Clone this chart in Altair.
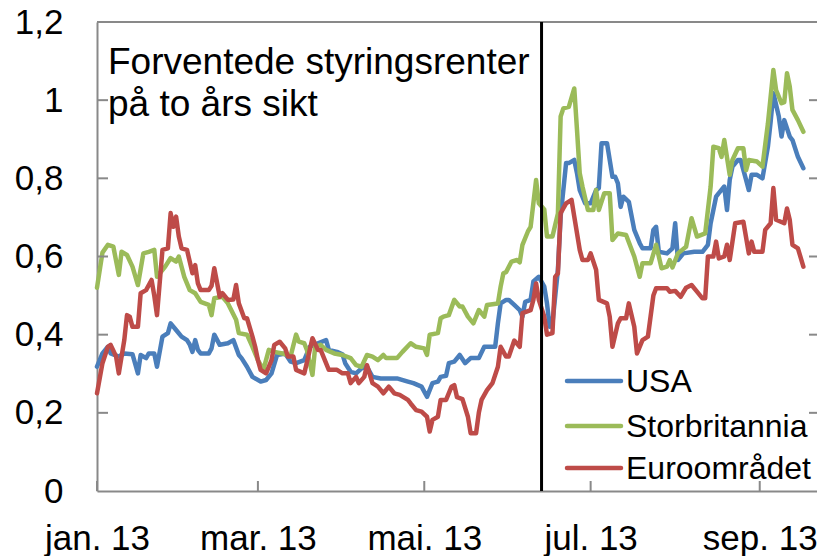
import altair as alt
import pandas as pd

# ---------------- data ----------------
start_date = "2013-01-01"
series_names = ["USA", "Storbritannia", "Euroområdet"]
series_colors = ["#4A7EBB", "#9BBB59", "#BE4B48"]

# (days since 1 Jan 2013, expected policy rate two years ahead, %)
usa_points = [
    (0, 0.318), (2, 0.352), (4, 0.369), (5, 0.352), (8, 0.344), (10, 0.352), (13, 0.35),
    (15, 0.301), (16, 0.348), (18, 0.34), (19, 0.352), (21, 0.352), (22, 0.318), (24, 0.395),
    (26, 0.404), (27, 0.429), (29, 0.412), (31, 0.395), (33, 0.386), (34, 0.375), (35, 0.356),
    (36, 0.386), (37, 0.361), (38, 0.352), (41, 0.352), (42, 0.365), (43, 0.4), (45, 0.374),
    (48, 0.378), (50, 0.386), (52, 0.348), (53, 0.34), (55, 0.318), (57, 0.292), (60, 0.28),
    (62, 0.284), (64, 0.301), (66, 0.348), (69, 0.352), (71, 0.331), (73, 0.327), (76, 0.335),
    (78, 0.369), (81, 0.378), (84, 0.386), (85, 0.361), (88, 0.356), (90, 0.35), (91, 0.327),
    (93, 0.305), (95, 0.301), (97, 0.314), (99, 0.318), (101, 0.292), (104, 0.288), (110, 0.288),
    (114, 0.28), (116, 0.276), (119, 0.267), (121, 0.241), (123, 0.276), (125, 0.28), (126, 0.292),
    (128, 0.295), (129, 0.327), (131, 0.331), (133, 0.348), (135, 0.327), (137, 0.34), (140, 0.34),
    (142, 0.369), (146, 0.369), (147, 0.429), (148, 0.48), (150, 0.489), (151, 0.489), (153, 0.476),
    (155, 0.463), (156, 0.446), (157, 0.484), (159, 0.489), (160, 0.536), (162, 0.548), (164, 0.523),
    (165, 0.48), (166, 0.42), (167, 0.429), (169, 0.566), (170, 0.702), (172, 0.839), (173, 0.839),
    (175, 0.847), (176, 0.813), (177, 0.77), (179, 0.736), (181, 0.736), (183, 0.77), (184, 0.775),
    (185, 0.89), (187, 0.89), (189, 0.804), (190, 0.804), (191, 0.787), (192, 0.727), (193, 0.753),
    (195, 0.74), (197, 0.668), (199, 0.634), (200, 0.621), (203, 0.621), (204, 0.668), (205, 0.676),
    (206, 0.612), (209, 0.608), (211, 0.621), (212, 0.685), (213, 0.591), (215, 0.608), (219, 0.612),
    (222, 0.612), (224, 0.63), (225, 0.685), (227, 0.753), (228, 0.762), (230, 0.779), (231, 0.719),
    (232, 0.796), (233, 0.83), (235, 0.847), (236, 0.847), (238, 0.796), (239, 0.77), (240, 0.809),
    (242, 0.809), (244, 0.8), (246, 0.881), (247, 0.945), (248, 1.018), (250, 0.958), (251, 0.907),
    (252, 0.949), (254, 0.907), (255, 0.898), (257, 0.855), (259, 0.826),
]

uk_points = [
    (0, 0.52), (2, 0.61), (4, 0.63), (6, 0.625), (8, 0.553), (9, 0.612), (11, 0.604), (13, 0.574),
    (15, 0.527), (17, 0.608), (19, 0.612), (21, 0.617), (22, 0.548), (25, 0.574), (27, 0.596),
    (29, 0.587), (30, 0.6), (32, 0.548), (34, 0.514), (36, 0.506), (38, 0.484), (41, 0.476),
    (42, 0.45), (43, 0.493), (46, 0.497), (48, 0.48), (51, 0.438), (52, 0.404), (55, 0.4),
    (57, 0.369), (59, 0.335), (61, 0.31), (63, 0.361), (65, 0.356), (68, 0.352), (71, 0.345),
    (73, 0.4), (74, 0.382), (76, 0.378), (77, 0.36), (79, 0.297), (80, 0.369), (82, 0.374),
    (84, 0.361), (87, 0.352), (90, 0.348), (93, 0.34), (95, 0.322), (97, 0.318), (99, 0.348),
    (101, 0.344), (103, 0.335), (105, 0.348), (106, 0.34), (110, 0.34), (112, 0.356), (115, 0.378),
    (117, 0.369), (120, 0.365), (121, 0.348), (122, 0.4), (125, 0.404), (126, 0.442), (127, 0.446),
    (129, 0.45), (131, 0.489), (133, 0.472), (134, 0.472), (136, 0.446), (138, 0.429), (140, 0.463),
    (142, 0.446), (143, 0.476), (147, 0.48), (148, 0.523), (149, 0.557), (150, 0.56), (152, 0.587),
    (154, 0.591), (155, 0.585), (156, 0.63), (158, 0.664), (159, 0.676), (161, 0.796), (162, 0.736),
    (164, 0.72), (165, 0.651), (167, 0.651), (169, 0.71), (170, 0.958), (171, 0.979), (173, 0.983),
    (175, 1.03), (176, 0.924), (177, 0.813), (178, 0.779), (180, 0.719), (182, 0.719), (183, 0.77),
    (184, 0.719), (186, 0.762), (188, 0.762), (189, 0.642), (191, 0.659), (194, 0.655), (197, 0.6),
    (199, 0.548), (200, 0.583), (203, 0.583), (205, 0.63), (207, 0.57), (209, 0.574), (210, 0.591),
    (211, 0.572), (213, 0.608), (216, 0.625), (218, 0.698), (220, 0.651), (223, 0.659), (225, 0.779),
    (226, 0.881), (228, 0.877), (229, 0.855), (230, 0.898), (232, 0.809), (233, 0.847), (235, 0.877),
    (237, 0.877), (238, 0.821), (239, 0.847), (242, 0.843), (244, 0.83), (246, 0.94), (248, 1.077),
    (249, 1.026), (251, 0.992), (252, 0.995), (253, 1.069), (254, 1.035), (255, 0.975), (257, 0.949),
    (259, 0.919),
]

euro_points = [
    (0, 0.25), (2, 0.327), (4, 0.369), (5, 0.374), (7, 0.344), (8, 0.301), (10, 0.386), (11, 0.45),
    (12, 0.446), (13, 0.42), (15, 0.42), (16, 0.506), (18, 0.514), (20, 0.54), (21, 0.5), (22, 0.45),
    (24, 0.617), (26, 0.621), (27, 0.711), (28, 0.676), (29, 0.702), (30, 0.651), (31, 0.621),
    (33, 0.617), (35, 0.557), (36, 0.578), (37, 0.531), (38, 0.514), (41, 0.514), (42, 0.525),
    (43, 0.57), (45, 0.497), (46, 0.506), (48, 0.489), (50, 0.49), (51, 0.527), (52, 0.48),
    (54, 0.442), (55, 0.442), (57, 0.395), (58, 0.369), (59, 0.335), (60, 0.31), (62, 0.301),
    (64, 0.335), (65, 0.374), (67, 0.382), (69, 0.365), (70, 0.344), (72, 0.344), (73, 0.31),
    (76, 0.301), (77, 0.33), (79, 0.391), (81, 0.361), (82, 0.361), (85, 0.31), (88, 0.31),
    (90, 0.301), (92, 0.301), (93, 0.276), (95, 0.292), (96, 0.276), (98, 0.292), (99, 0.322),
    (101, 0.276), (103, 0.267), (105, 0.25), (107, 0.267), (109, 0.25), (111, 0.246), (114, 0.233),
    (115, 0.224), (117, 0.207), (119, 0.203), (121, 0.19), (122, 0.152), (123, 0.182), (125, 0.19),
    (126, 0.233), (128, 0.233), (130, 0.267), (131, 0.271), (132, 0.24), (134, 0.235), (136, 0.19),
    (137, 0.148), (139, 0.148), (140, 0.2), (141, 0.233), (143, 0.258), (145, 0.276), (147, 0.318),
    (148, 0.369), (150, 0.344), (151, 0.344), (153, 0.385), (155, 0.369), (156, 0.455), (159, 0.463),
    (160, 0.489), (161, 0.531), (162, 0.489), (164, 0.446), (165, 0.4), (167, 0.404), (168, 0.548),
    (169, 0.557), (170, 0.711), (172, 0.736), (174, 0.745), (175, 0.702), (177, 0.617), (178, 0.591),
    (180, 0.591), (181, 0.608), (183, 0.566), (184, 0.489), (187, 0.48), (188, 0.446), (189, 0.369),
    (191, 0.429), (192, 0.442), (194, 0.442), (195, 0.48), (197, 0.42), (198, 0.352), (200, 0.386),
    (202, 0.395), (204, 0.5), (205, 0.519), (209, 0.519), (210, 0.51), (212, 0.512), (214, 0.497),
    (216, 0.52), (218, 0.527), (220, 0.51), (222, 0.493), (223, 0.493), (224, 0.6), (226, 0.6),
    (227, 0.638), (228, 0.595), (230, 0.6), (231, 0.63), (232, 0.591), (234, 0.685), (237, 0.689),
    (239, 0.608), (240, 0.638), (241, 0.612), (244, 0.612), (245, 0.668), (247, 0.685), (248, 0.775),
    (249, 0.694), (252, 0.685), (253, 0.723), (254, 0.694), (255, 0.63), (257, 0.621), (259, 0.574),
]

event_date = "2013-06-13"
y_ticks = [0, 0.2, 0.4, 0.6, 0.8, 1.0, 1.2]
y_tick_labels = ["0", "0,2", "0,4", "0,6", "0,8", "1", "1,2"]
x_tick_dates = ["2013-01-01", "2013-03-01", "2013-05-01", "2013-07-01", "2013-09-01"]
x_tick_labels = ["jan. 13", "mar. 13", "mai. 13", "jul. 13", "sep. 13"]
x_domain_days = 264
title_text = "Forventede styringsrenter\npå to års sikt"

# ---------------- layout / style ----------------
W, H = 720, 469
FONT = "Liberation Sans"
GRAY = "#898989"
LINE_W = 4.5

start = pd.Timestamp(start_date)
rows = []
for name, pts in zip(series_names, [usa_points, uk_points, euro_points]):
    for d, v in pts:
        rows.append({"date": start + pd.Timedelta(days=d), "value": v, "series": name})
df = pd.DataFrame(rows)


def dt(ts):
    return alt.DateTime(year=ts.year, month=ts.month, date=ts.day)


end = start + pd.Timedelta(days=x_domain_days)
x_scale = alt.Scale(domain=[dt(start), dt(end)])
y_scale = alt.Scale(domain=[min(y_ticks), max(y_ticks)], nice=False, zero=False)
color_scale = alt.Scale(domain=series_names, range=series_colors)

tick_ts = [pd.Timestamp(s) for s in x_tick_dates]
label_expr_x = " : ".join(
    f"month(datum.value) == {t.month - 1} ? '{lab}'" for t, lab in zip(tick_ts, x_tick_labels)
) + " : ''"
label_expr_y = " : ".join(
    f"abs(datum.value - {v}) < 0.001 ? '{lab}'" for v, lab in zip(y_ticks, y_tick_labels)
) + " : ''"

x_axis = alt.Axis(
    values=[dt(t) for t in tick_ts], labelExpr=label_expr_x, ticks=False, grid=False,
    domainColor=GRAY, domainWidth=2, labelFontSize=35, labelPadding=30, labelColor="black",
    labelFont=FONT, labelFlush=False, labelOverlap=False, title=None, labels=True,
)
y_axis = alt.Axis(
    values=y_ticks, labelExpr=label_expr_y, ticks=False, grid=False, domainColor=GRAY,
    domainWidth=2, labelFontSize=35, labelPadding=34, labelColor="black", labelFont=FONT,
    labelOverlap=False, title=None, labels=True,
)

X = lambda f: alt.X(f, scale=x_scale, axis=x_axis)
Y = lambda f: alt.Y(f, scale=y_scale, axis=y_axis)

# series lines (drawn in Excel order: USA, Storbritannia, Euroområdet)
line_layers = []
for name in series_names:
    line_layers.append(
        alt.Chart(df[df["series"] == name]).mark_line(
            strokeWidth=LINE_W, strokeJoin="round", strokeCap="round"
        ).encode(
            x=X("date:T"),
            y=Y("value:Q"),
            color=alt.Color("series:N", scale=color_scale, legend=None),
        )
    )

inner_ticks = pd.DataFrame({"v": y_ticks[1:-1]})
left_ticks = alt.Chart(inner_ticks).mark_rule(color=GRAY, strokeWidth=2).encode(
    y=Y("v:Q"), x=alt.value(0), x2=alt.value(11)
)
right_ticks = alt.Chart(inner_ticks).mark_rule(color=GRAY, strokeWidth=2).encode(
    y=Y("v:Q"), x=alt.value(W - 8), x2=alt.value(W)
)
bottom_ticks = alt.Chart(pd.DataFrame({"d": tick_ts})).mark_rule(color=GRAY, strokeWidth=2).encode(
    x=X("d:T"), y=alt.value(H - 10), y2=alt.value(H)
)
top_border = alt.Chart(pd.DataFrame({"v": [max(y_ticks)]})).mark_rule(color=GRAY, strokeWidth=2).encode(
    y=Y("v:Q"), x=alt.value(0), x2=alt.value(W)
)

event_rule = alt.Chart(pd.DataFrame({"d": [pd.Timestamp(event_date)]})).mark_rule(
    color="black", strokeWidth=3
).encode(x=X("d:T"))

title_layer = alt.Chart(pd.DataFrame({"t": [title_text]})).mark_text(
    align="left", baseline="alphabetic", fontSize=37, lineBreak="\n", lineHeight=42,
    font=FONT, color="black",
).encode(text="t:N", x=alt.value(11), y=alt.value(52))

# legend (inside the plot, lower right)
legend_rows_y = [359, 404, 446]
legend_layers = []
for name, ly in zip(series_names, legend_rows_y):
    ldf = pd.DataFrame({"series": [name]})
    legend_layers.append(
        alt.Chart(ldf).mark_rule(strokeWidth=LINE_W, strokeCap="round").encode(
            x=alt.value(470), x2=alt.value(524), y=alt.value(ly),
            color=alt.Color("series:N", scale=color_scale, legend=None),
        )
    )
    legend_layers.append(
        alt.Chart(ldf).mark_text(
            align="left", baseline="middle", fontSize=32, font=FONT, color="black"
        ).encode(text="series:N", x=alt.value(529), y=alt.value(ly + 1))
    )

chart = alt.layer(
    *line_layers, top_border, left_ticks, right_ticks, bottom_ticks,
    event_rule, title_layer, *legend_layers,
).properties(
    width=W, height=H,
    autosize=alt.AutoSizeParams(type="none"),
    padding={"left": 89, "top": 14, "right": 0, "bottom": 65},
    background="white",
).configure(font=FONT).configure_view(stroke=None)

chart.save("out.html", embed_options={"renderer": "svg", "actions": False})
